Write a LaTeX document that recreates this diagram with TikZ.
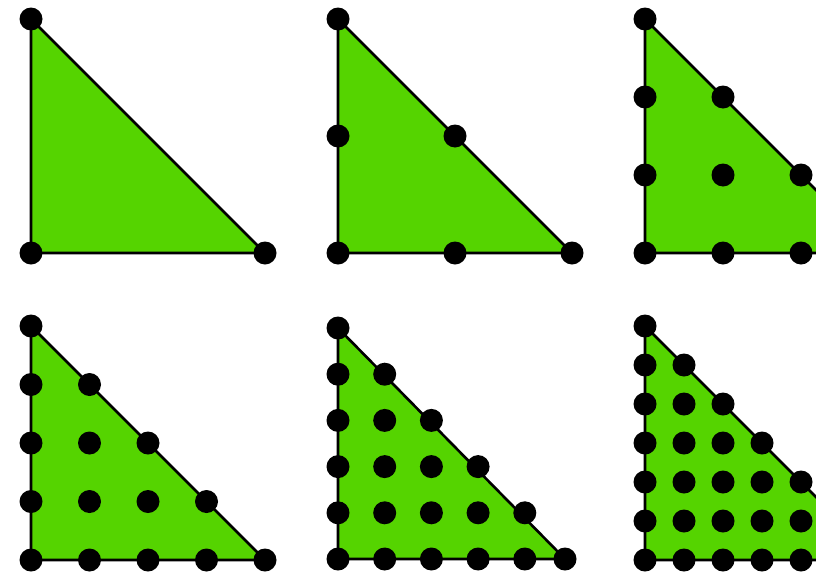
\documentclass[tikz,border=0pt]{standalone}
\definecolor{trigreen}{RGB}{85,212,0}
\tikzset{
  tri/.style={fill=trigreen, draw=black, line width=2.6pt, line join=round},
  dot/.style={circle, fill=black, inner sep=0pt, minimum size=23pt}
}
% #1 name, #2 x0, #3 ybottom, #4 hx, #5 hy, #6 degree, #7 x of right vertex
\newcommand\lagtri[7]{%
  \coordinate (#1A) at (#2,{#3-#6*#5});
  \coordinate (#1B) at (#2,#3);
  \coordinate (#1C) at (#7,#3);
  \filldraw[tri] (#1A) -- (#1B) -- (#1C) -- cycle;
  \foreach \j in {0,...,#6}{%
    \pgfmathtruncatemacro\m{#6-\j}%
    \foreach \i in {0,...,\m}{%
      \pgfmathsetmacro\xx{(\i==#6)*(#7)+(\i<#6)*(#2+\i*#4)}%
      \node[dot] (#1-\i-\j) at (\xx,{#3-\j*#5}) {};
    }%
  }%
}
\begin{document}
\begin{tikzpicture}[x=1pt,y=-1pt]
\useasboundingbox (0,0) rectangle (816,573);
\clip (0,0) rectangle (816,573);
\lagtri{p}{31}{253}{234}{234}{1}{265}
\lagtri{q}{338}{253}{117}{117}{2}{572}
\lagtri{r}{645}{253}{78}{78}{3}{879}
\lagtri{s}{31}{560}{58.5}{58.5}{4}{265}
\lagtri{t}{338}{559}{46.7}{46.2}{5}{565}
\lagtri{u}{645}{560}{39}{39}{6}{879}
\end{tikzpicture}
\end{document}
